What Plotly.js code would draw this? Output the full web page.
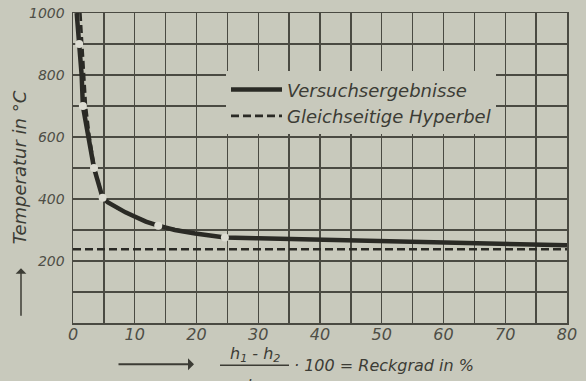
<!DOCTYPE html>
<html>
<head>
<meta charset="utf-8">
<script src="https://cdn.plot.ly/plotly-3.0.1.min.js"></script>
<style>
html,body{margin:0;padding:0;background:#c8c9bc;}
#chart{width:586px;height:381px;}
</style>
</head>
<body>
<div id="chart"></div>
<script>
// Versuchsergebnisse (measured curve)
const measX = [0.6, 0.8, 1.0, 1.4, 1.6, 2.0, 2.5, 3.4, 4.8, 5.6, 7.1, 8.5, 9.8, 11.8, 13.8, 16.5, 19.8, 22.0, 24.6, 30, 40, 50, 60, 70, 80];
const measY = [1000, 950, 900, 800, 700, 645, 600, 500, 404, 390, 372, 357, 345, 327, 314, 300, 289, 282, 276, 273, 269, 265, 260, 256, 251];
// measured points (circles)
const ptsX = [1.0, 1.6, 3.4, 4.8, 13.8, 24.6];
const ptsY = [900, 700, 500, 404, 314, 276];
// Gleichseitige Hyperbel
const hypX = [1.2, 1.5, 1.8, 2.1, 2.7, 3.5, 4.9, 7.2, 9.9, 13.9, 19.8, 24.6];
const hypY = [1000, 900, 800, 700, 600, 500, 400, 370, 344, 313, 289, 276];
// asymptote of the hyperbola
const asymX = [0, 80];
const asymY = [238, 238];
// ticks
const xTickVals = [0, 10, 20, 30, 40, 50, 60, 70, 80];
const xTickText = ['0', '10', '20', '30', '40', '50', '60', '70', '80'];
const yTickVals = [0, 200, 400, 600, 800, 1000];
const yTickText = ['', '200', '400', '600', '800', '1000'];
const legendNames = ['Versuchsergebnisse', 'Gleichseitige Hyperbel'];

const BG = '#c8c9bc';
const GRID = '#4a4a42';
const INK = '#2a2a25';
const TXT = '#4e4e46';
const FONT = 'DejaVu Sans, Arial, sans-serif';

const traces = [
  {x: asymX, y: asymY, mode: 'lines', showlegend: false, legendgroup: 'h',
   line: {color: INK, width: 2.6, dash: '8px,4px'}, hoverinfo: 'skip'},
  {x: hypX, y: hypY, mode: 'lines', name: legendNames[1], legendgroup: 'h', legendrank: 2,
   line: {color: INK, width: 2.6, dash: '8px,4px'}, hoverinfo: 'skip'},
  {x: measX, y: measY, mode: 'lines', name: legendNames[0], legendrank: 1,
   line: {color: INK, width: 4.5}, hoverinfo: 'skip'},
  {x: ptsX, y: ptsY, mode: 'markers', showlegend: false,
   marker: {color: '#dcdcd2', size: 8, line: {width: 0}}, hoverinfo: 'skip'}
];

const axisCommon = {
  showline: true, mirror: true, linecolor: GRID, linewidth: 1.5,
  showgrid: true, gridcolor: GRID, gridwidth: 1.4,
  zeroline: false, ticks: '', tickmode: 'array'
};

const layout = {
  width: 586, height: 381,
  margin: {l: 73, r: 19, t: 13, b: 58},
  paper_bgcolor: BG, plot_bgcolor: BG,
  showlegend: true,
  legend: {
    x: (226 - 73) / 494, y: (322.7 - 71) / 310, xanchor: 'left', yanchor: 'top',
    bgcolor: BG, borderwidth: 0, traceorder: 'normal',
    font: {family: FONT, size: 18, color: '#3c3c35', style: 'italic'},
    tracegroupgap: 0, itemwidth: 51
  },
  xaxis: Object.assign({}, axisCommon, {
    range: [0, 80], tickvals: xTickVals, ticktext: xTickText,
    ticklabelstandoff: -4,
    tickfont: {family: FONT, size: 16, color: TXT, style: 'italic'},
    minor: {tickmode: 'linear', tick0: 0, dtick: 5, showgrid: true, gridcolor: GRID, gridwidth: 1.4, ticks: ''}
  }),
  yaxis: Object.assign({}, axisCommon, {
    range: [0, 1000], tickvals: yTickVals, ticktext: yTickText,
    ticklabelstandoff: 4,
    tickfont: {family: FONT, size: 14, color: TXT, style: 'italic'},
    minor: {tickmode: 'linear', tick0: 0, dtick: 100, showgrid: true, gridcolor: GRID, gridwidth: 1.4, ticks: ''}
  }),
  shapes: [
    {type: 'line', xref: 'paper', yref: 'paper',
     x0: (220 - 73) / 494, x1: (289 - 73) / 494, y0: (322.7 - 365) / 310, y1: (322.7 - 365) / 310,
     line: {color: '#3c3c35', width: 1.5}}
  ],
  annotations: [
    // y axis title
    {xref: 'paper', yref: 'paper', x: (19 - 73) / 494, y: (322.7 - 167) / 310,
     xanchor: 'center', yanchor: 'middle',
     text: 'Temperatur in °C', textangle: -90, showarrow: false,
     font: {family: FONT, size: 18, color: '#3c3c35', style: 'italic'}},
    // y arrow
    {xref: 'paper', yref: 'paper', x: (21 - 73) / 494, y: (322.7 - 268) / 310,
     ax: 0, ay: 49, text: '', showarrow: true, arrowhead: 1, arrowsize: 1.2,
     arrowwidth: 1.5, arrowcolor: '#3c3c35'},
    // x arrow
    {xref: 'paper', yref: 'paper', x: (194 - 73) / 494, y: (322.7 - 364) / 310,
     ax: -77, ay: 0, text: '', showarrow: true, arrowhead: 1, arrowsize: 1.0,
     arrowwidth: 2, arrowcolor: '#3c3c35'},
    // numerator
    {xref: 'paper', yref: 'paper', x: (255 - 73) / 494, y: (322.7 - 354) / 310,
     text: 'h<sub>1</sub> - h<sub>2</sub>', showarrow: false, yanchor: 'middle',
     font: {family: FONT, size: 16, color: '#3c3c35', style: 'italic'}},
    // denominator (cut off by the page edge, as in the reference)
    {xref: 'paper', yref: 'paper', x: (255 - 73) / 494, y: (322.7 - 386) / 310,
     text: 'h<sub>1</sub>', showarrow: false, yanchor: 'middle',
     font: {family: FONT, size: 16, color: '#3c3c35', style: 'italic'}},
    // rest of x title
    {xref: 'paper', yref: 'paper', x: (292 - 73) / 494, y: (322.7 - 365) / 310,
     text: '· 100 = Reckgrad in %', showarrow: false, xanchor: 'left', yanchor: 'middle',
     font: {family: FONT, size: 16, color: '#3c3c35', style: 'italic'}}
  ]
};

Plotly.newPlot('chart', traces, layout, {staticPlot: true, displayModeBar: false});
</script>
</body>
</html>
